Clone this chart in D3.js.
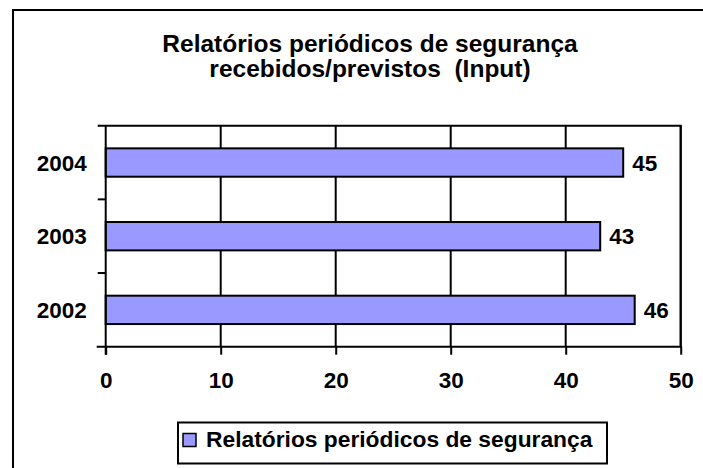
<!DOCTYPE html>
<meta charset="utf-8">
<html>
<script src="https://cdn.jsdelivr.net/npm/d3@7"></script>
<style>
  body { margin: 0; background: #fff; }
  text { font-family: Arial, "Liberation Sans", sans-serif; font-weight: bold; fill: #000; }
</style>
<div id="chart"></div>
<script>

// data
var years = ["2004", "2003", "2002"];
var values = [45, 43, 46];
var xTicks = [0, 10, 20, 30, 40, 50];
var seriesName = ["Relatórios periódicos de segurança"];
var titleLines = ["Relatórios periódicos de segurança", "recebidos/previstos  (Input)"];

var width = 703,
    height = 468;

// plot area
var plotLeft = 105.7, plotRight = 680.7, plotTop = 125.7, plotBottom = 346.7;

var svg = d3.select("#chart")
  .append("svg")
    .attr("width", width)
    .attr("height", height);

// outer chart border (right/bottom edges fall outside the picture)
svg.append("rect")
    .attr("x", 13)
    .attr("y", 10)
    .attr("width", 760)
    .attr("height", 520)
    .attr("fill", "none")
    .attr("stroke", "#000")
    .attr("stroke-width", 2);

// title
svg.selectAll("text.title")
    .data(titleLines)
    .enter().append("text")
    .attr("class", "title")
    .attr("x", 370)
    .attr("y", function(d, i) { return 52 + i * 24.5; })
    .attr("text-anchor", "middle")
    .style("font-size", "24.5px")
    .style("white-space", "pre")
    .text(function(d) { return d; });

var x = d3.scaleLinear()
  .domain([0, 50])
  .range([plotLeft, plotRight]);

var y = d3.scaleBand()
  .domain(years)
  .range([plotTop, plotBottom])
  .paddingInner(0.615)
  .paddingOuter(0.3075);

// vertical gridlines
svg.append("g")
    .selectAll("line")
    .data(xTicks.slice(1))
    .enter().append("line")
    .attr("x1", function(d) { return x(d); })
    .attr("x2", function(d) { return x(d); })
    .attr("y1", plotTop)
    .attr("y2", plotBottom)
    .attr("stroke", "#000")
    .attr("stroke-width", 2);

// top border of plot
svg.append("line")
    .attr("x1", plotLeft - 8).attr("x2", plotRight + 1)
    .attr("y1", plotTop).attr("y2", plotTop)
    .attr("stroke", "#000")
    .attr("stroke-width", 2);

// bars
svg.selectAll("rect.bar")
    .data(values)
    .enter().append("rect")
    .attr("class", "bar")
    .attr("x", x(0))
    .attr("y", function(d, i) { return y(years[i]); })
    .attr("width", function(d) { return x(d) - x(0); })
    .attr("height", y.bandwidth())
    .attr("fill", "#9999FF")
    .attr("stroke", "#000")
    .attr("stroke-width", 2);

// value labels
svg.selectAll("text.val")
    .data(values)
    .enter().append("text")
    .attr("class", "val")
    .attr("x", function(d) { return x(d) + 9; })
    .attr("y", function(d, i) { return y(years[i]) + y.bandwidth() / 2 + 8; })
    .style("font-size", "22.5px")
    .text(function(d) { return d; });

// x axis
var xAxis = svg.append("g")
    .attr("transform", "translate(0," + plotBottom + ")")
    .call(d3.axisBottom(x).tickValues(xTicks).tickSize(8).tickSizeOuter(0));
xAxis.select(".domain").remove();
xAxis.append("line")
    .attr("x1", plotLeft - 9).attr("x2", plotRight + 1)
    .attr("stroke", "#000").attr("stroke-width", 2);
xAxis.selectAll(".tick line").attr("stroke", "#000").attr("stroke-width", 2);
xAxis.selectAll(".tick text")
    .attr("dy", "0")
    .attr("y", 41)
    .attr("font-size", null)
    .attr("font-family", null)
    .style("font-size", "22.5px");

// y axis
var yAxis = svg.append("g")
    .attr("transform", "translate(" + plotLeft + ",0)")
    .call(d3.axisLeft(y).tickSize(0).tickPadding(19));
yAxis.select(".domain").remove();
yAxis.append("line")
    .attr("y1", plotTop).attr("y2", plotBottom + 8)
    .attr("stroke", "#000").attr("stroke-width", 2);
yAxis.selectAll(".tick text")
    .attr("dy", "0.36em")
    .attr("font-size", null)
    .attr("font-family", null)
    .style("font-size", "22.5px");

// category separator ticks
var step = y.step();
svg.append("g")
    .selectAll("line")
    .data(years.slice(1))
    .enter().append("line")
    .attr("x1", plotLeft - 8).attr("x2", plotLeft)
    .attr("y1", function(d) { return y(d) - y.paddingInner() * step / 2; })
    .attr("y2", function(d) { return y(d) - y.paddingInner() * step / 2; })
    .attr("stroke", "#000")
    .attr("stroke-width", 2);

// right border of plot
svg.append("line")
    .attr("x1", plotRight).attr("x2", plotRight)
    .attr("y1", plotTop).attr("y2", plotBottom)
    .attr("stroke", "#000")
    .attr("stroke-width", 2);

// legend
var legend = svg.append("g").attr("class", "legend");
legend.append("rect")
    .attr("x", 178)
    .attr("y", 422.5)
    .attr("width", 429)
    .attr("height", 41)
    .attr("fill", "#fff")
    .attr("stroke", "#000")
    .attr("stroke-width", 2);
legend.selectAll("rect.key")
    .data(seriesName)
    .enter().append("rect")
    .attr("class", "key")
    .attr("x", 183)
    .attr("y", 433.5)
    .attr("width", 13)
    .attr("height", 13)
    .attr("fill", "#9999FF")
    .attr("stroke", "#000")
    .attr("stroke-width", 1.5);
legend.selectAll("text")
    .data(seriesName)
    .enter().append("text")
    .attr("x", 206)
    .attr("y", 447)
    .style("font-size", "22.8px")
    .text(function(d) { return d; });

</script>
</html>
